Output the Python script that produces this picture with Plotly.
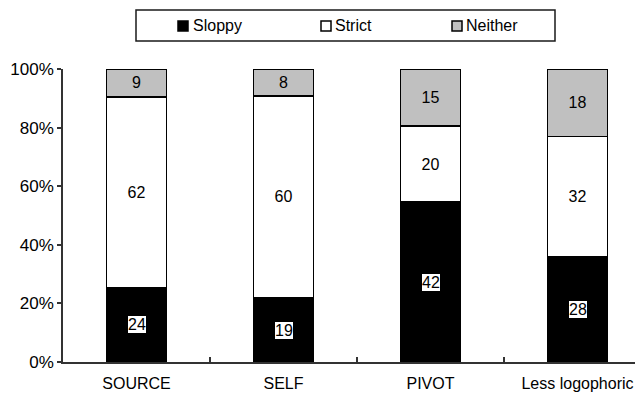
import plotly.graph_objects as go

categories = ["SOURCE", "SELF", "PIVOT", "Less logophoric"]
sloppy = [24, 19, 42, 28]
strict = [62, 60, 20, 32]
neither = [9, 8, 15, 18]
y_ticks = [0, 20, 40, 60, 80, 100]
y_tick_labels = ["0%", "20%", "40%", "60%", "80%", "100%"]
series_names = ["Sloppy", "Strict", "Neither"]
series_colors = ["#000000", "#ffffff", "#c0c0c0"]

FONT = "Liberation Sans, Arial, sans-serif"
# page body has an 8px default margin, so the figure is sized to the visible area
OFF = 8
W, H = 643 - OFF, 393 - OFF
ML, MR, MT, MB = 63 - OFF, 0, 69 - OFF, 31
PW, PH = W - ML - MR, H - MT - MB


def px(x):  # page x -> paper x
    return (x - OFF - ML) / PW


def py(y):  # page y -> paper y
    return 1 - (y - OFF - MT) / PH


fig = go.Figure()
for name, vals, col in zip(series_names, [sloppy, strict, neither], series_colors):
    fig.add_trace(go.Bar(
        name=name, x=categories, y=vals,
        marker=dict(color=col, line=dict(color="#000000", width=1.5)),
        width=0.41,
        text=None if name == "Sloppy" else [str(v) for v in vals],
        textposition="inside", insidetextanchor="middle",
        textfont=dict(family=FONT, size=16, color="#000000"),
        constraintext="none",
        hoverinfo="skip",
        showlegend=False,
    ))

# white-boxed labels on the Sloppy segments
totals = [a + b + c for a, b, c in zip(sloppy, strict, neither)]
for cat, v, t in zip(categories, sloppy, totals):
    fig.add_annotation(x=cat, y=v / t * 100 / 2, text=str(v), showarrow=False,
                       bgcolor="#ffffff", borderpad=0, borderwidth=0,
                       font=dict(family=FONT, size=16, color="#000000"))

# legend (box, swatches, labels)
fig.add_shape(type="rect", xref="paper", yref="paper",
              x0=px(136), x1=px(555), y0=py(41), y1=py(10),
              line=dict(color="#1a1a1a", width=1.5), fillcolor="#ffffff", layer="above")
swatch_x = [178, 321, 452]
label_x = [193, 335, 466]
for name, col, sx, lx in zip(series_names, series_colors, swatch_x, label_x):
    fig.add_shape(type="rect", xref="paper", yref="paper",
                  x0=px(sx), x1=px(sx + 10), y0=py(31), y1=py(21),
                  line=dict(color="#000000", width=1.5), fillcolor=col, layer="above")
    fig.add_annotation(xref="paper", yref="paper", x=px(lx), y=py(25.5),
                       xanchor="left", yanchor="middle", text=name, showarrow=False,
                       borderpad=0, borderwidth=0,
                       font=dict(family=FONT, size=16, color="#000000"))

fig.update_layout(
    width=W, height=H,
    margin=dict(l=ML, r=MR, t=MT, b=MB, pad=0, autoexpand=False),
    barmode="stack", barnorm="percent",
    paper_bgcolor="#ffffff", plot_bgcolor="#ffffff",
    font=dict(family=FONT, size=16, color="#000000"),
    showlegend=False,
    xaxis=dict(range=[-0.5, -0.5 + PW / 147.0], showline=True, linecolor="#333333", linewidth=1.5,
               ticks="inside", tickson="boundaries", ticklen=5, tickcolor="#333333", tickwidth=1.5,
               showgrid=False, zeroline=False, fixedrange=True, automargin=False,
               ticklabelstandoff=6,
               tickfont=dict(family=FONT, size=16, color="#000000")),
    yaxis=dict(range=[0, 100], tickvals=y_ticks, ticktext=y_tick_labels, showline=True,
               linecolor="#333333", linewidth=1.5, ticks="outside", ticklen=4, tickcolor="#333333",
               tickwidth=1.5, showgrid=False, zeroline=False, fixedrange=True, automargin=False,
               tickfont=dict(family=FONT, size=17, color="#000000")),
)
fig.write_html("out.html")
